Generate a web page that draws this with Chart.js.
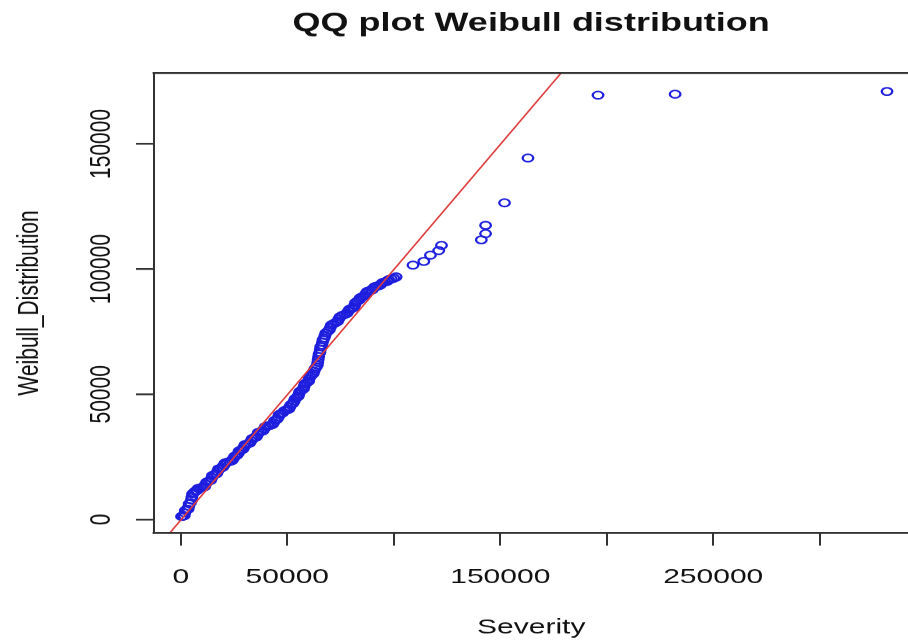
<!DOCTYPE html>
<html>
<head>
<meta charset="utf-8">
<script src="https://cdn.jsdelivr.net/npm/chart.js@4/dist/chart.umd.min.js"></script>
<style>
  html, body { margin: 0; padding: 0; background: #fff; overflow: hidden; }
  #wrap { position: relative; width: 908px; height: 640px; overflow: hidden; background: #fff; }
  #inner { position: absolute; left: 0; top: 0; width: 916px; height: 915px; transform: scaleY(0.7); transform-origin: 0 0; }
  #c { display: block; width: 916px; height: 915px; }
</style>
</head>
<body>
<div id="wrap"><div id="inner"><canvas id="c" width="916" height="915"></canvas></div></div>
<script>
// ---- data ----
const severity = [
  300, 900, 1600, 1900, 2100, 2600, 3400, 3700, 3900, 4500,
  5000, 5200, 5500, 6100, 6800, 7600, 8100, 9200, 10300, 11200,
  11600, 12100, 13000, 14000, 14500, 14900, 15800, 16800, 17300, 17700,
  18700, 19700, 20300, 20800, 21900, 23000, 24100, 24700, 25300, 26300,
  27000, 27400, 28300, 29200, 29700, 30200, 31300, 32400, 33000, 33500,
  34500, 35500, 36000, 36400, 37500, 38600, 39200, 39700, 40800, 41900,
  43000, 43600, 44100, 45200, 45800, 46200, 47100, 47900, 48700, 49700,
  50700, 51200, 51700, 52600, 53200, 53600, 54400, 55100, 55500, 55900,
  56800, 57600, 57900, 58300, 59200, 60000, 60300, 60700, 61500, 62200,
  62600, 63000, 63600, 64100, 64300, 64500, 64700, 64900, 65300, 65500,
  65700, 66200, 66500, 66800, 67300, 67700, 68100, 68900, 69700, 70200,
  70700, 71600, 72700, 73600, 74200, 74800, 75800, 76900, 78000, 78600,
  79200, 80300, 81200, 81700, 82100, 82900, 83800, 84300, 85300, 86400,
  87000, 87600, 88700, 89800, 90500, 91100, 92300, 93400, 94100, 94800,
  95900, 97000, 97600, 98800, 100000, 101100,
  109000, 114100, 117200, 121100, 122400,
  141100, 143100, 143100, 152000, 163000,
  195900, 232100, 331600
];
const weibullQuantiles = [
  1200, 1300, 1500, 2600, 3600, 3900, 4100, 5200, 6300, 6600,
  7800, 9000, 10200, 10700, 11300, 11600, 12400, 12600, 12800, 13100,
  14000, 14900, 15200, 15600, 16600, 17600, 17900, 18300, 19200, 20200,
  20500, 20900, 21800, 22600, 22900, 23200, 23500, 24400, 25300, 25600,
  26400, 27400, 27800, 28100, 29000, 29900, 30200, 30500, 31400, 32300,
  32700, 33000, 33900, 34800, 35100, 35400, 36300, 37100, 37400, 37600,
  37900, 38700, 39600, 40000, 40900, 41900, 42300, 42600, 43500, 43800,
  44100, 45000, 45900, 46300, 47200, 48200, 48700, 49200, 50200, 51200,
  51700, 52200, 53200, 54200, 54700, 55200, 56200, 57200, 57700, 58300,
  59300, 60300, 60900, 61700, 62800, 63900, 65000, 66100, 66800, 67900,
  69000, 69700, 70800, 71800, 72500, 73500, 74500, 75100, 75700, 76700,
  77700, 78200, 78600, 79100, 80100, 81000, 81500, 81900, 82300, 83200,
  84000, 84300, 84700, 85700, 86700, 87200, 87700, 88600, 89000, 89400,
  90300, 91100, 91400, 91700, 92400, 93000, 93200, 93500, 94100, 94700,
  94900, 95200, 95800, 96100, 96400, 96900,
  101600, 103100, 105600, 107400, 109500,
  111700, 114200, 117500, 126500, 144400,
  169500, 169900, 171000
];
// reference line (qqline), two end points in data units
const refLineX = [-20000, 200000];
const refLineY = [-20200, 199800];

const xTickValues = [0, 50000, 100000, 150000, 200000, 250000, 300000];
const xTickLabels = ['0', '50000', '', '150000', '', '250000', ''];
const yTickValues = [0, 50000, 100000, 150000];
const yTickLabels = ['0', '50000', '100000', '150000'];

const titleText = 'QQ plot Weibull distribution';
const xTitle = 'Severity';
const yTitle = 'Weibull_Distribution';

// ---- build ----
const points = severity.map((v, i) => ({ x: v, y: weibullQuantiles[i] }));
const linePts = refLineX.map((v, i) => ({ x: v, y: refLineY[i] }));
const FONT = "'Liberation Sans', Arial, Helvetica, sans-serif";

const framePlugin = {
  id: 'frame',
  afterDatasetsDraw(chart) {
    const a = chart.chartArea, ctx = chart.ctx;
    ctx.save();
    ctx.strokeStyle = '#333';
    ctx.lineCap = 'square';
    ctx.lineWidth = 2.8;
    ctx.beginPath();
    ctx.moveTo(a.left, a.top); ctx.lineTo(916, a.top);
    ctx.moveTo(a.left, a.bottom); ctx.lineTo(916, a.bottom);
    ctx.stroke();
    ctx.lineWidth = 2;
    ctx.beginPath();
    ctx.moveTo(a.left, a.top); ctx.lineTo(a.left, a.bottom);
    ctx.stroke();
    ctx.restore();
  }
};

new Chart(document.getElementById('c'), {
  type: 'scatter',
  data: {
    datasets: [
      {
        type: 'line',
        data: linePts,
        borderColor: 'rgb(222,60,60)',
        borderWidth: 1.8,
        pointRadius: 0,
        showLine: true,
        fill: false,
        clip: 0,
        order: 0
      },
      {
        data: points,
        pointStyle: 'circle',
        pointRadius: 5.3,
        pointBorderWidth: 2.3,
        pointBorderColor: 'rgb(30,30,222)',
        pointBackgroundColor: 'rgba(0,0,0,0)',
        clip: false,
        order: 1
      }
    ]
  },
  options: {
    responsive: false,
    devicePixelRatio: 1,
    animation: false,
    events: [],
    layout: { padding: 0 },
    plugins: {
      legend: { display: false },
      tooltip: { enabled: false },
      title: {
        display: true,
        text: titleText,
        fullSize: false,
        color: '#111',
        font: { family: FONT, size: 36, weight: 'bold', lineHeight: 1.2 },
        padding: { top: 12.7, bottom: 48.4 }
      }
    },
    scales: {
      x: {
        type: 'linear',
        position: 'bottom',
        min: -12600,
        max: 341640,
        afterBuildTicks: s => { s.ticks = xTickValues.map(v => ({ value: v })); },
        afterFit: s => { s.height = 915 - 761.4; s.paddingLeft = 0; s.paddingRight = 0; },
        grid: { display: true, drawOnChartArea: false, drawTicks: true, tickLength: 18, color: '#333', lineWidth: 2 },
        border: { display: false },
        ticks: {
          autoSkip: false, minRotation: 0, maxRotation: 0,
          padding: 27,
          color: '#111',
          font: { family: FONT, size: 30, lineHeight: 1.2 },
          callback: v => { const i = xTickValues.indexOf(v); return i >= 0 ? xTickLabels[i] : ''; }
        },
        title: {
          display: true, text: xTitle, color: '#111',
          font: { family: FONT, size: 30, lineHeight: 1.2 },
          padding: { top: 0, bottom: 0 }
        }
      },
      y: {
        type: 'linear',
        position: 'left',
        min: -5400,
        max: 178350,
        afterBuildTicks: s => { s.ticks = yTickValues.map(v => ({ value: v })); },
        afterFit: s => { s.width = 154; s.paddingTop = 0; s.paddingBottom = 0; },
        grid: { display: true, drawOnChartArea: false, drawTicks: true, tickLength: 18, color: '#333', lineWidth: 2.6 },
        border: { display: false },
        ticks: {
          autoSkip: false, minRotation: 90, maxRotation: 90,
          crossAlign: 'center',
          padding: -16,
          color: '#111',
          font: { family: FONT, size: 30, lineHeight: 1.2 },
          callback: v => { const i = yTickValues.indexOf(v); return i >= 0 ? yTickLabels[i] : ''; }
        },
        title: {
          display: true, text: yTitle, color: '#111',
          font: { family: FONT, size: 30, lineHeight: 1.2 },
          padding: { top: 11.6, bottom: 0 }
        }
      }
    }
  },
  plugins: [framePlugin]
});
</script>
</body>
</html>
